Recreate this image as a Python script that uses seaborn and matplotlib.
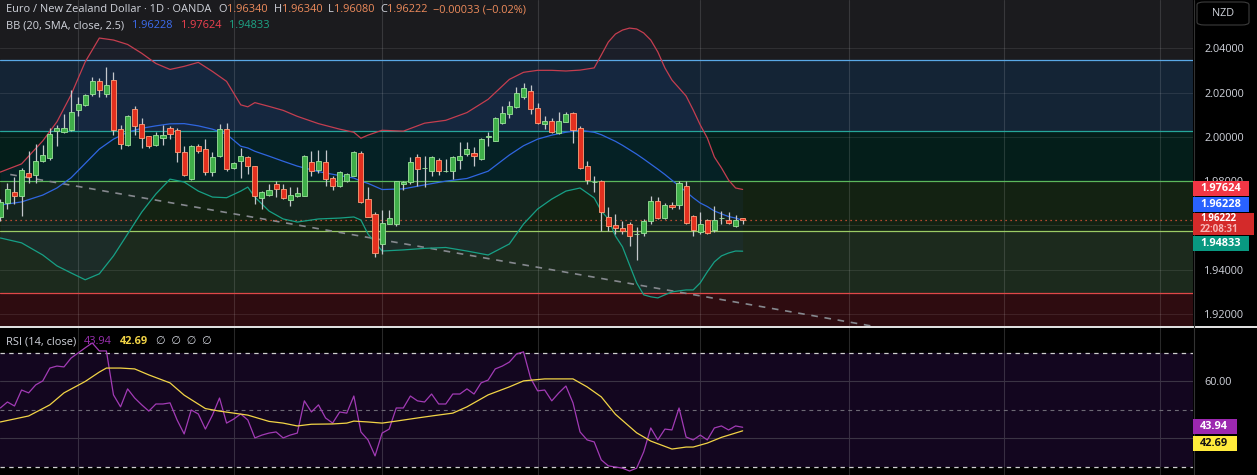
import numpy as np
import pandas as pd
import seaborn as sns
import matplotlib
matplotlib.use("Agg")
import matplotlib.pyplot as plt
from matplotlib.patches import FancyBboxPatch, Rectangle
from matplotlib.lines import Line2D

# ---- daily EUR/NZD candles ----
opens = [1.9638, 1.9701, 1.9751, 1.9733, 1.9836, 1.9827, 1.9890, 1.9904, 2.0026, 2.0021,
         2.0030, 2.0120, 2.0143, 2.0193, 2.0251, 2.0193, 2.0256, 2.0035, 1.9963, 2.0125,
         2.0057, 2.0003, 1.9963, 1.9994, 2.0039, 2.0030, 1.9931, 1.9809, 1.9958, 1.9945,
         1.9841, 1.9913, 2.0035, 1.9859, 1.9890, 1.9908, 1.9868, 1.9724, 1.9737, 1.9787,
         1.9764, 1.9715, 1.9733, 1.9733, 1.9886, 1.9850, 1.9886, 1.9814, 1.9778, 1.9800,
         1.9823, 1.9927, 1.9719, 1.9651, 1.9516, 1.9606, 1.9606, 1.9787, 1.9796, 1.9908,
         1.9858, 1.9845, 1.9895, 1.9845, 1.9845, 1.9895, 1.9922, 1.9927, 1.9899, 1.9999,
         1.9981, 2.0062, 2.0102, 2.0134, 2.0179, 2.0206, 2.0129, 2.0057, 2.0071, 2.0017,
         2.0066, 2.0107, 2.0039, 1.9868, 1.9796, 1.9800, 1.9638, 1.9602, 1.9588, 1.9606,
         1.9561, 1.9566, 1.9620, 1.9710, 1.9633, 1.9692, 1.9692, 1.9778, 1.9642, 1.9570,
         1.9624, 1.9579, 1.9633, 1.9624, 1.9597, 1.96340]
highs = [1.9719, 1.9791, 1.9818, 1.9859, 1.9936, 1.9967, 1.9963, 2.0039, 2.0053, 2.0102,
         2.0211, 2.0179, 2.0193, 2.0269, 2.0265, 2.0314, 2.0292, 2.0053, 2.0098, 2.0138,
         2.0084, 2.0003, 2.0021, 2.0053, 2.0048, 2.0039, 1.9958, 1.9963, 1.9967, 1.9990,
         1.9931, 2.0057, 2.0062, 1.9886, 1.9949, 1.9913, 1.9868, 1.9755, 1.9787, 1.9800,
         1.9787, 1.9773, 1.9773, 1.9917, 1.9936, 1.9940, 1.9940, 1.9823, 1.9845, 1.9836,
         1.9936, 1.9936, 1.9773, 1.9660, 1.9669, 1.9669, 1.9800, 1.9800, 1.9908, 1.9922,
         1.9913, 1.9913, 1.9904, 1.9899, 1.9913, 1.9976, 1.9976, 1.9954, 1.9994, 2.0021,
         2.0089, 2.0138, 2.0161, 2.0224, 2.0242, 2.0233, 2.0152, 2.0093, 2.0084, 2.0111,
         2.0111, 2.0111, 2.0048, 1.9890, 1.9823, 1.9805, 1.9683, 1.9651, 1.9620, 1.9615,
         1.9593, 1.9629, 1.9733, 1.9728, 1.9701, 1.9706, 1.9800, 1.9800, 1.9647, 1.9660,
         1.9629, 1.9687, 1.9665, 1.9660, 1.9647, 1.96340]
lows = [1.9620, 1.9674, 1.9696, 1.9642, 1.9791, 1.9791, 1.9886, 1.9895, 1.9958, 2.0017,
        2.0026, 2.0093, 2.0138, 2.0184, 2.0179, 2.0179, 2.0008, 1.9945, 1.9958, 2.0008,
        1.9949, 1.9949, 1.9958, 1.9963, 1.9990, 1.9886, 1.9823, 1.9805, 1.9927, 1.9827,
        1.9823, 1.9908, 1.9845, 1.9854, 1.9814, 1.9832, 1.9696, 1.9674, 1.9733, 1.9728,
        1.9719, 1.9687, 1.9728, 1.9733, 1.9823, 1.9836, 1.9778, 1.9760, 1.9773, 1.9796,
        1.9823, 1.9701, 1.9638, 1.9457, 1.9471, 1.9606, 1.9597, 1.9760, 1.9787, 1.9778,
        1.9773, 1.9823, 1.9827, 1.9841, 1.9809, 1.9854, 1.9913, 1.9868, 1.9895, 1.9958,
        1.9981, 2.0057, 2.0084, 2.0129, 2.0170, 2.0102, 2.0057, 2.0035, 2.0017, 2.0012,
        2.0066, 1.9972, 1.9854, 1.9787, 1.9751, 1.9575, 1.9575, 1.9561, 1.9561, 1.9507,
        1.9444, 1.9552, 1.9606, 1.9629, 1.9629, 1.9674, 1.9674, 1.9606, 1.9552, 1.9561,
        1.9561, 1.9570, 1.9606, 1.9606, 1.9593, 1.96080]
closes = [1.9706, 1.9764, 1.9733, 1.9850, 1.9818, 1.9890, 1.9917, 2.0012, 2.0039, 2.0039,
          2.0111, 2.0147, 2.0188, 2.0251, 2.0211, 2.0233, 2.0030, 1.9967, 2.0093, 2.0048,
          1.9994, 1.9958, 2.0008, 2.0008, 2.0012, 1.9931, 1.9827, 1.9958, 1.9936, 1.9841,
          1.9908, 2.0035, 1.9854, 1.9881, 1.9913, 1.9868, 1.9733, 1.9751, 1.9760, 1.9764,
          1.9724, 1.9737, 1.9746, 1.9913, 1.9845, 1.9890, 1.9809, 1.9778, 1.9841, 1.9832,
          1.9931, 1.9706, 1.9638, 1.9475, 1.9611, 1.9633, 1.9800, 1.9796, 1.9886, 1.9854,
          1.9858, 1.9908, 1.9845, 1.9845, 1.9908, 1.9913, 1.9945, 1.9913, 1.9990, 2.0003,
          2.0084, 2.0107, 2.0138, 2.0197, 2.0220, 2.0125, 2.0062, 2.0071, 2.0021, 2.0071,
          2.0102, 2.0030, 1.9859, 1.9805, 1.9796, 1.9660, 1.9597, 1.9588, 1.9575, 1.9552,
          1.9561, 1.9620, 1.9710, 1.9633, 1.9692, 1.9683, 1.9791, 1.9611, 1.9579, 1.9606,
          1.9566, 1.9624, 1.9633, 1.9611, 1.9624, 1.96222]

# ---- Bollinger bands (20, 2.5) read at some bars ----
bb_bars = [0, 3, 6, 8, 10, 12, 14, 16, 18, 20, 22, 24, 26, 28, 30, 32, 34, 35, 36, 38,
           40, 42, 45, 48, 50, 51, 52, 54, 57, 60, 63, 66, 69, 72, 74, 76, 78, 80, 82, 84,
           85, 86, 87, 88, 89, 90, 91, 92, 93, 94, 95, 96, 97, 98, 99, 100, 101, 102, 103, 104, 105]
bb_upper = [1.9841, 1.9878, 1.9982, 2.0068, 2.0190, 2.0339, 2.0447, 2.0438, 2.0418, 2.0378,
            2.0332, 2.0305, 2.0319, 2.0337, 2.0296, 2.0251, 2.0145, 2.0136, 2.0155, 2.0138,
            2.0120, 2.0093, 2.0060, 2.0035, 2.0021, 1.9994, 2.0008, 2.0030, 2.0026, 2.0062,
            2.0075, 2.0110, 2.0170, 2.0260, 2.0292, 2.0301, 2.0301, 2.0298, 2.0302, 2.0312,
            2.0370, 2.0429, 2.0465, 2.0483, 2.0492, 2.0488, 2.0470, 2.0438, 2.0384, 2.0312,
            2.0257, 2.0221, 2.0185, 2.0122, 2.0054, 1.9995, 1.9909, 1.9860, 1.9805, 1.9769, 1.97624]
bb_basis = [1.9692, 1.9706, 1.9737, 1.9769, 1.9815, 1.9880, 1.9945, 1.9990, 2.0021, 2.0039,
            2.0050, 2.0059, 2.0060, 2.0050, 2.0035, 2.0012, 1.9958, 1.9950, 1.9935, 1.9913,
            1.9890, 1.9868, 1.9843, 1.9825, 1.9814, 1.9800, 1.9790, 1.9762, 1.9765, 1.9783,
            1.9800, 1.9812, 1.9845, 1.9918, 1.9960, 1.9990, 2.0008, 2.0021, 2.0030, 2.0021,
            2.0010, 1.9995, 1.9980, 1.9962, 1.9942, 1.9922, 1.9900, 1.9877, 1.9854, 1.9830,
            1.9804, 1.9778, 1.9752, 1.9725, 1.9701, 1.9685, 1.9665, 1.9652, 1.9640, 1.9633, 1.96228]
bb_lower = [1.9543, 1.9521, 1.9466, 1.9417, 1.9385, 1.9354, 1.9381, 1.9462, 1.9561, 1.9660,
            1.9742, 1.9809, 1.9796, 1.9755, 1.9728, 1.9725, 1.9755, 1.9773, 1.9728, 1.9665,
            1.9629, 1.9615, 1.9629, 1.9633, 1.9638, 1.9624, 1.9561, 1.9484, 1.9489, 1.9496,
            1.9500, 1.9484, 1.9466, 1.9516, 1.9606, 1.9674, 1.9719, 1.9755, 1.9769, 1.9724,
            1.9665, 1.9629, 1.9552, 1.9503, 1.9421, 1.9340, 1.9286, 1.9277, 1.9272, 1.9286,
            1.9299, 1.9304, 1.9308, 1.9308, 1.9340, 1.9390, 1.9435, 1.9462, 1.9475, 1.9484, 1.94833]

# ---- RSI (14) and its moving average ----
rsi = [50.7, 52.8, 51.4, 57.0, 56.0, 58.8, 60.2, 64.7, 65.4, 65.1,
       68.2, 70.0, 71.8, 73.5, 70.7, 70.7, 55.3, 51.1, 57.4, 54.2,
       51.8, 49.6, 52.1, 52.1, 52.5, 46.5, 41.6, 50.0, 48.6, 43.3,
       48.2, 54.2, 45.4, 46.8, 48.6, 46.5, 40.2, 41.2, 41.9, 42.3,
       40.2, 41.2, 41.9, 53.2, 49.3, 51.8, 47.2, 45.4, 49.3, 48.9,
       54.9, 42.3, 39.5, 33.9, 41.9, 43.3, 50.7, 50.7, 54.9, 53.2,
       52.8, 55.6, 52.1, 52.1, 55.6, 55.6, 57.4, 55.6, 59.5, 60.5,
       64.4, 65.4, 66.8, 69.6, 70.4, 61.2, 56.7, 57.0, 53.2, 56.0,
       58.4, 52.5, 42.3, 39.5, 38.8, 32.5, 30.4, 30.0, 29.6, 28.6,
       29.6, 35.3, 43.7, 39.5, 43.3, 43.0, 50.7, 40.5, 39.5, 41.2,
       39.5, 43.7, 44.4, 43.0, 44.4, 43.94]
ma_bars = [0, 4, 7, 9, 12, 14, 15, 17, 19, 21, 24, 26, 29, 31, 33, 35, 38, 40, 42, 44, 47, 49, 50,
           52, 54, 56, 59, 61, 64, 66, 69, 72, 74, 77, 81, 83, 85, 87, 90, 92, 95, 97, 98, 100, 102, 105]
rsi_ma = [45.8, 47.9, 51.8, 56.0, 60.0, 63.3, 64.7, 64.7, 64.4, 62.3, 59.5, 55.2, 50.5, 49.6, 48.9,
          48.2, 46.0, 45.4, 44.4, 45.0, 45.1, 45.4, 46.1, 45.8, 45.4, 46.1, 47.2, 47.9, 48.9, 51.1,
          55.3, 58.1, 60.2, 60.9, 60.9, 58.1, 54.6, 48.5, 42.0, 39.1, 36.3, 37.0, 37.0, 38.4, 40.4, 42.69]

# drawn levels / zones, trend line, month separators
zone_levels = [2.0348, 2.0027, 1.9802, 1.9575, 1.9295]
trend_bars = [1.4, 130]
trend_prices = [1.9830, 1.9107]
month_bars = [11, 33, 54, 76, 99, 120, 142, 164]
price_ticks = [1.92, 1.94, 1.96, 1.98, 2.00, 2.02, 2.04]
# 1.96000 sits fully under the last-price tag in the reference
price_labels = ["1.92000", "1.94000", "", "1.98000", "2.00000", "2.02000", "2.04000"]

W, H = 1257, 475
sns.set_theme(style="dark", rc={"axes.grid": False})
FONT = ["Open Sans", "DejaVu Sans"]
plt.rcParams["font.family"] = FONT
TXT = "#d1d4dc"

fig = plt.figure(figsize=(W / 100, H / 100), dpi=100, facecolor="#000000")
ax = fig.add_axes([0, 1 - 326 / H, 1193 / W, 326 / H])
ax_rsi = fig.add_axes([0, 0, 1193 / W, 148 / H])
XMAX = 168.7

# ---------- price panel ----------
ax.set_facecolor("#1b1b1e")
zone_cols = ["#142435", "#041e1a", "#132212", "#1c2a1d", "#2e0c10"]
spans = [(zone_levels[1], zone_levels[0]), (zone_levels[2], zone_levels[1]),
         (zone_levels[3], zone_levels[2]), (zone_levels[4], zone_levels[3]), (1.90, zone_levels[4])]
for (lo, hi), col in zip(spans, zone_cols):
    ax.axhspan(lo, hi, color=col, lw=0, zorder=0)
line_cols = ["#5aa9e6", "#26a69a", "#5cb85c", "#9ccc65", "#e04848"]
for lvl, col in zip(zone_levels, line_cols):
    ax.axhline(lvl, color=col, lw=0.9, zorder=2)

for p in price_ticks:
    ax.axhline(p, color="#ffffff", alpha=0.09, lw=0.8, zorder=1)
for b in month_bars:
    ax.axvline(b, color="#ffffff", alpha=0.13, lw=0.8, zorder=1)
    ax_rsi.axvline(b, color="#ffffff", alpha=0.16, lw=0.8, zorder=1)

df_bb = pd.DataFrame({"bar": bb_bars, "upper": bb_upper, "basis": bb_basis, "lower": bb_lower})
ax.fill_between(df_bb["bar"], df_bb["upper"], df_bb["lower"], color="#2962ff", alpha=0.05, lw=0, zorder=1.5)
sns.lineplot(data=df_bb, x="bar", y="upper", ax=ax, color="#c43e50", lw=0.9, zorder=3)
sns.lineplot(data=df_bb, x="bar", y="basis", ax=ax, color="#2f66e0", lw=0.9, zorder=3)
sns.lineplot(data=df_bb, x="bar", y="lower", ax=ax, color="#17a085", lw=0.9, zorder=3)

ax.plot(trend_bars, trend_prices, color="#85888e", lw=1.2, ls=(0, (4, 4)), zorder=2.5)
ax.axhline(closes[-1], color="#e8573a", lw=0.9, ls=(0, (1, 3)), zorder=2.6)

o = np.array(opens); c = np.array(closes); hi = np.array(highs); lo = np.array(lows)
k = np.arange(len(c))
up = c >= o
ax.vlines(k, lo, hi, color="#c4c7cc", lw=0.9, zorder=4)
body = np.maximum(np.abs(c - o), 0.00006)
bottom = np.minimum(o, c)
ax.bar(k[up], body[up], bottom=bottom[up], width=0.72, color="#3fae49", edgecolor="#9be39a", lw=0.6, zorder=5)
ax.bar(k[~up], body[~up], bottom=bottom[~up], width=0.72, color="#e3301f", edgecolor="#ffa07a", lw=0.6, zorder=5)

ax.set_xlim(-0.05, XMAX)
ax.set_ylim(1.9145, 2.0619)
ax.set_xticks([])
ax.yaxis.tick_right()
ax.set_yticks(price_ticks)
ax.set_yticklabels(price_labels)
ax.tick_params(axis="y", length=0, pad=8, labelcolor=TXT, labelsize=7.8)
ax.set_xlabel(""); ax.set_ylabel("")
for s in ax.spines.values():
    s.set_visible(False)

# ---------- RSI panel ----------
ax_rsi.set_facecolor("#000000")
ax_rsi.axhspan(30, 70, color="#13061f", lw=0, zorder=0)
ax_rsi.axhline(70, color="#cfcfcf", lw=0.9, ls=(0, (3.5, 3.5)), zorder=1)
ax_rsi.axhline(30, color="#cfcfcf", lw=0.9, ls=(0, (3.5, 3.5)), zorder=1)
ax_rsi.axhline(50, color="#6e6a75", lw=0.8, ls=(0, (3.5, 3.5)), zorder=1)
for g in (60, 40):
    ax_rsi.axhline(g, color="#3b3444", lw=0.8, zorder=1)
df_rsi = pd.DataFrame({"bar": k, "rsi": rsi})
df_ma = pd.DataFrame({"bar": ma_bars, "ma": rsi_ma})
sns.lineplot(data=df_rsi, x="bar", y="rsi", ax=ax_rsi, color="#a23bb5", lw=0.9, zorder=3)
sns.lineplot(data=df_ma, x="bar", y="ma", ax=ax_rsi, color="#f2d446", lw=0.9, zorder=3)
ax_rsi.set_xlim(-0.05, XMAX)
ax_rsi.set_ylim(27.2, 79.1)
ax_rsi.set_xticks([])
ax_rsi.yaxis.tick_right()
ax_rsi.set_yticks([60])
ax_rsi.set_yticklabels(["60.00"])
ax_rsi.tick_params(axis="y", length=0, pad=8, labelcolor=TXT, labelsize=7.8)
ax_rsi.set_xlabel(""); ax_rsi.set_ylabel("")
for s in ax_rsi.spines.values():
    s.set_visible(False)

fig.add_artist(Line2D([0, 1], [1 - 326.5 / H] * 2, color="#e6e6e6", lw=1.4, transform=fig.transFigure))
fig.add_artist(Line2D([1193.5 / W] * 2, [0, 1], color="#333333", lw=0.8, transform=fig.transFigure))

# ---------- legend texts ----------
renderer = fig.canvas.get_renderer()


def inline(x, y, parts, size=7.9):
    for s, col, gap, wt in parts:
        t = fig.text(x / W, 1 - y / H, s, color=col, fontsize=size, va="center", ha="left", fontweight=wt)
        x += t.get_window_extent(renderer=renderer).width + gap


ORG = "#ef8c5c"
inline(6, 10, [("Euro / New Zealand Dollar · 1D · OANDA", TXT, 7, "normal"),
               ("O", TXT, 0, "normal"), ("1.96340", ORG, 6, "normal"),
               ("H", TXT, 0, "normal"), ("1.96340", ORG, 6, "normal"),
               ("L", TXT, 0, "normal"), ("1.96080", ORG, 6, "normal"),
               ("C", TXT, 0, "normal"), ("1.96222", ORG, 5, "normal"),
               ("−0.00033 (−0.02%)", ORG, 0, "normal")])
inline(6, 26, [("BB (20, SMA, close, 2.5)", TXT, 8, "normal"),
               ("1.96228", "#3d6df0", 8, "normal"),
               ("1.97624", "#f0414f", 8, "normal"),
               ("1.94833", "#1ea586", 0, "normal")])
inline(6, 342, [("RSI (14, close)", TXT, 8, "normal"),
                ("43.94", "#9a2fb0", 8, "normal"),
                ("42.69", "#f2d446", 8, "bold"),
                ("∅  ∅  ∅  ∅", TXT, 0, "normal")])


def tag(y0, y1, face, texts, tcol="#ffffff", x1=1249, size=7.9):
    fig.add_artist(Rectangle((1193 / W, 1 - y1 / H), (x1 - 1193) / W, (y1 - y0) / H,
                             transform=fig.transFigure, fc=face, ec="none", zorder=5))
    n = len(texts)
    for i, (s, col) in enumerate(texts):
        yc = y0 + (y1 - y0) * (i + 0.5) / n
        fig.text(1200 / W, 1 - yc / H, s, color=col or tcol, fontsize=size, fontweight="bold",
                 va="center", ha="left", zorder=6)


tag(181, 196, "#f23645", [("1.97624", None)])
tag(197, 212, "#2962ff", [("1.96228", None)])
tag(213, 235, "#d42a2a", [("1.96222", None), ("22:08:31", "#f7b4b4")], x1=1254, size=7.0)
tag(236, 251, "#089981", [("1.94833", None)])
tag(419, 434, "#9c27b0", [("43.94", None)], x1=1237)
tag(436, 451, "#ffeb3b", [("42.69", "#131313")], x1=1237)

fig.add_artist(FancyBboxPatch((1197 / W, 1 - 25 / H), 52 / W, 23 / H,
                              boxstyle="round,pad=0,rounding_size=0.006", transform=fig.transFigure,
                              fc="#000000", ec="#3c3c3c", lw=0.8))
fig.text(1223 / W, 1 - 13 / H, "NZD", color=TXT, fontsize=7.8, ha="center", va="center")

fig.savefig("out.png", dpi=100, facecolor="#000000")
